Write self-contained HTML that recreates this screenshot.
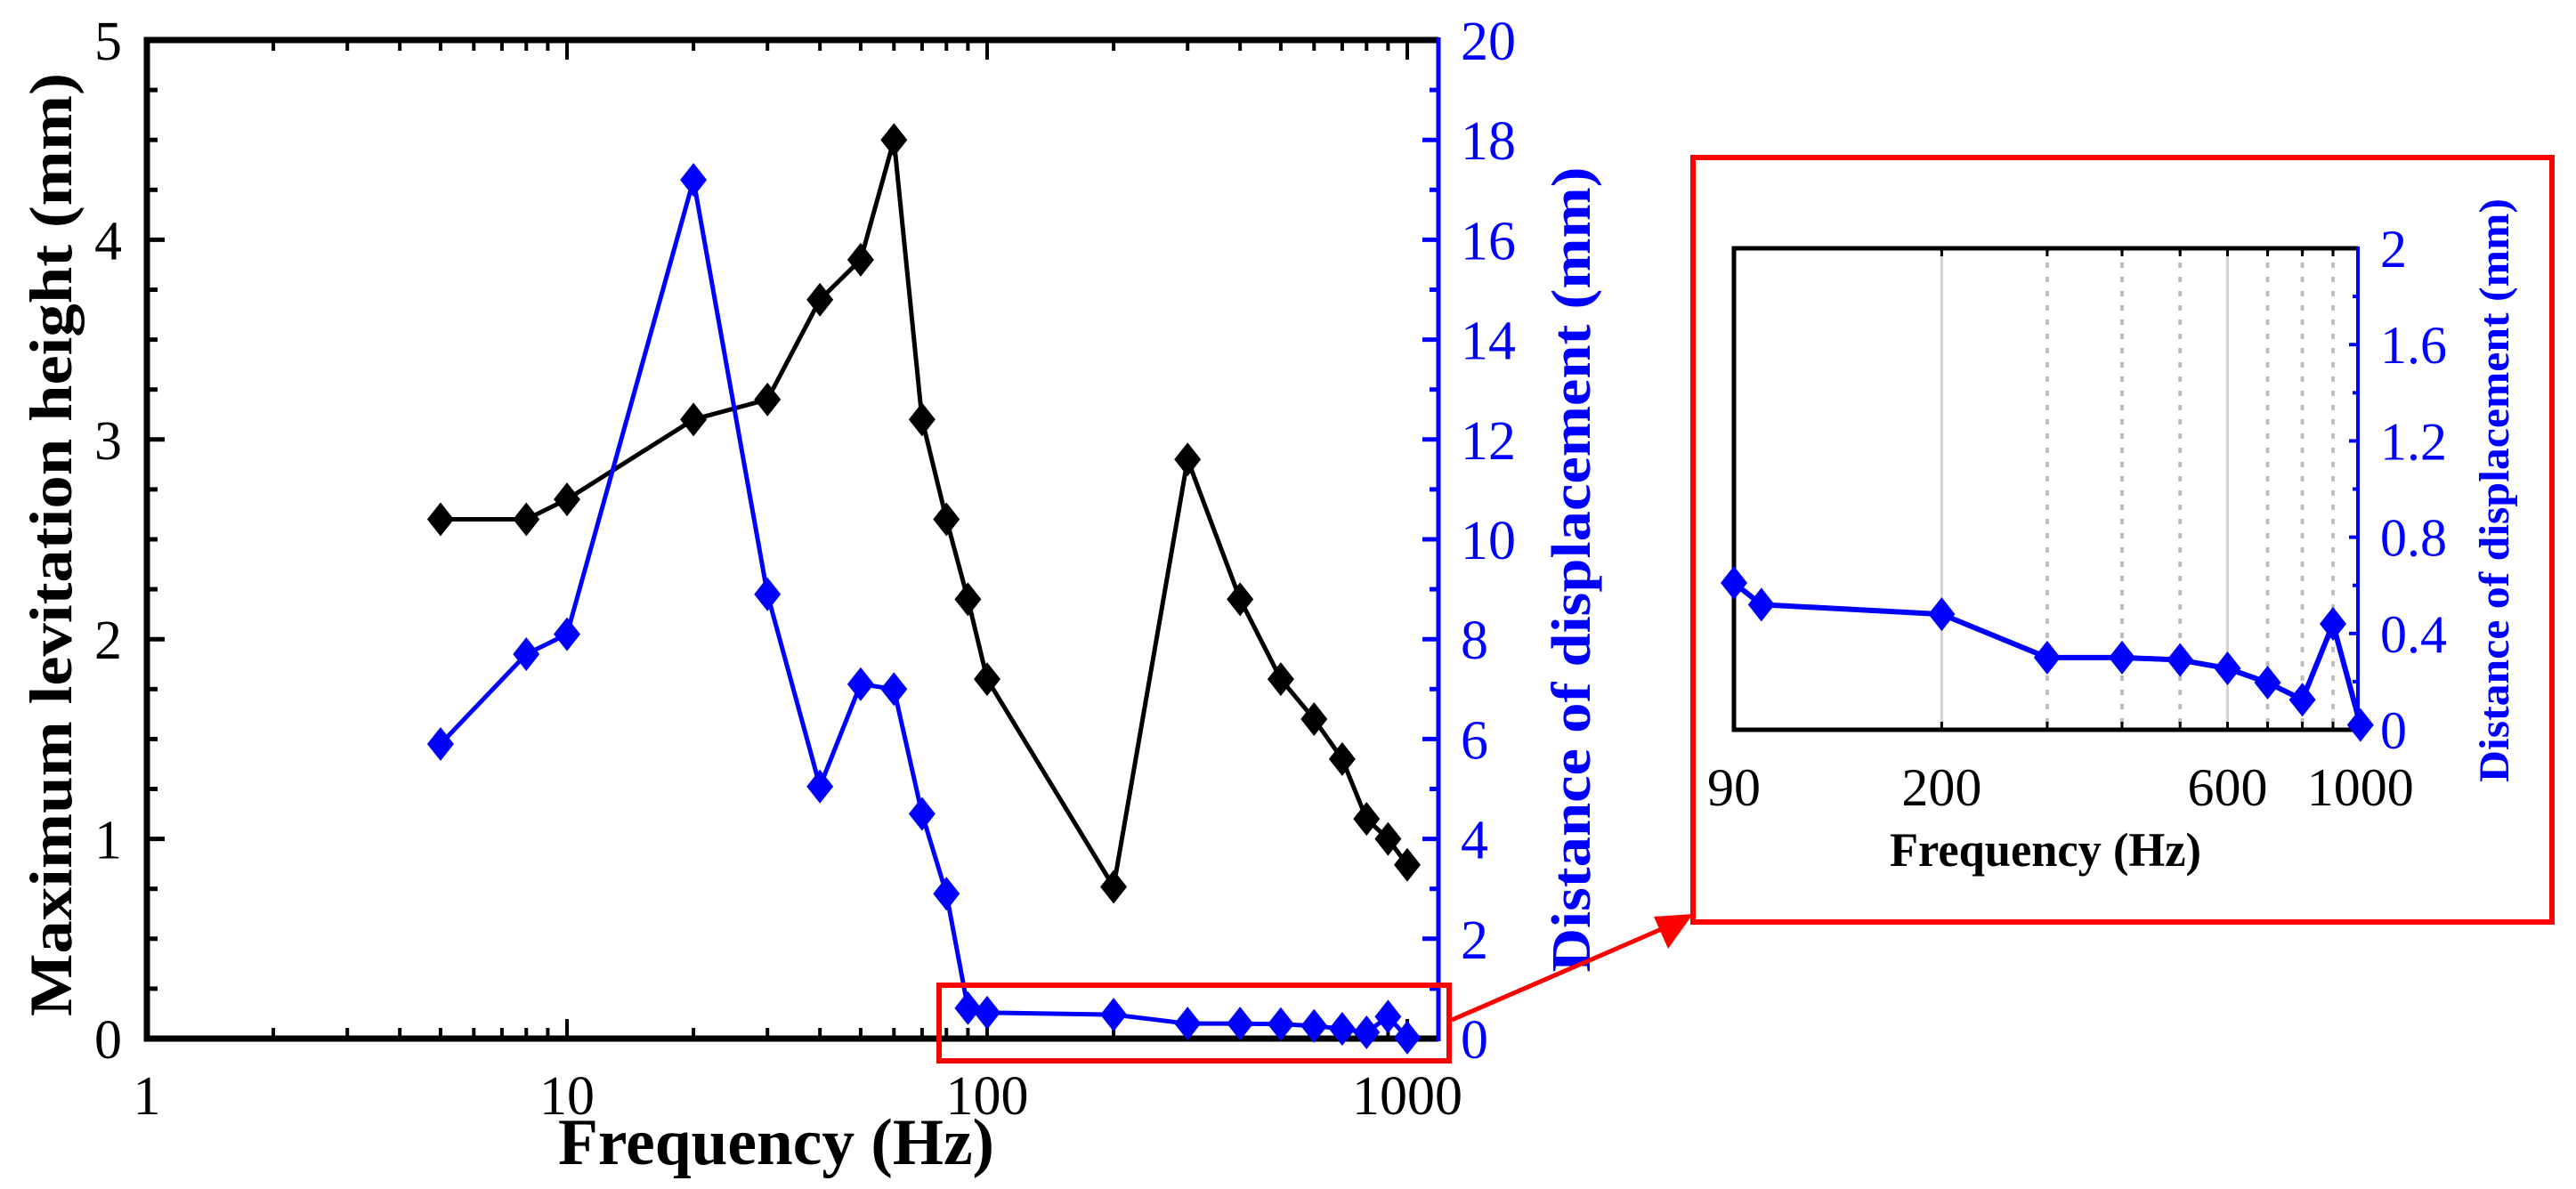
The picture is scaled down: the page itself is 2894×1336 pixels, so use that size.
<!DOCTYPE html>
<html><head><meta charset="utf-8"><style>
html,body{margin:0;padding:0;background:#fff;}
svg{display:block;font-family:"Liberation Serif",serif;}
</style></head><body>
<svg id="chart" width="2894" height="1336" viewBox="0 0 2894 1336" xmlns="http://www.w3.org/2000/svg">
<g id="main"></g>
<g id="inset"></g>
</svg>
<script>
const freqs = [5,8,10,20,30,40,50,60,70,80,90,100,200,300,400,500,600,700,800,900,1000];
const heightVals = [2.6,2.6,2.7,3.1,3.2,3.7,3.9,4.5,3.1,2.6,2.2,1.8,0.76,2.9,2.2,1.8,1.6,1.4,1.1,1.0,0.87];
const dispVals = [5.9,7.7,8.1,17.2,8.9,5.05,7.1,7.0,4.5,2.9,0.61,0.52,0.48,0.30,0.30,0.29,0.255,0.196,0.125,0.44,0.02];
const insetFreqs = [90,100,200,300,400,500,600,700,800,900,1000];
const insetDisp = [0.61,0.52,0.48,0.30,0.30,0.29,0.255,0.196,0.125,0.44,0.02];
const xTickLabels = ["1","10","100","1000"];
const leftTickLabels = ["0","1","2","3","4","5"];
const rightTickLabels = ["0","2","4","6","8","10","12","14","16","18","20"];
const insetXLabels = ["90","200","600","1000"];
const insetYLabels = ["0","0.4","0.8","1.2","1.6","2"];

const NS="http://www.w3.org/2000/svg";
function mk(parent,tag,attrs,text){const e=document.createElementNS(NS,tag);for(const k in attrs)e.setAttribute(k,attrs[k]);if(text!==undefined)e.textContent=text;parent.appendChild(e);return e;}

const X0=165,X1=1616,Y0=1167,Y1=45,DEC=472;
const xs=f=>X0+DEC*Math.log10(f);
const yL=v=>Y0-(Y0-Y1)*v/5;
const yR=v=>Y0-(Y0-Y1)*v/20;
const main=document.getElementById('main');

for(let d=0;d<4;d++){for(let m=1;m<=9;m++){const f=Math.pow(10,d)*m;const x=xs(f);if(x>X1-3)continue;const len=m===1?22:12;
 let t=mk(main,'line',{x1:x,y1:Y0,x2:x,y2:Y0-len,stroke:'#000','stroke-width':4});
 
 t=mk(main,'line',{x1:x,y1:Y1,x2:x,y2:Y1+len,stroke:'#000','stroke-width':4});
 }}
xTickLabels.forEach((s,i)=>{const t=mk(main,'text',{x:xs(Math.pow(10,i)),y:1252,'font-size':62,'text-anchor':'middle'},s);
 });
for(let k=0;k<=20;k++){const v=k*0.25;const len=k%4===0?20:12;const t=mk(main,'line',{x1:X0,y1:yL(v),x2:X0+len,y2:yL(v),stroke:'#000','stroke-width':5});
 }
leftTickLabels.forEach((s,i)=>{const t=mk(main,'text',{x:137,y:yL(+s)+22,'font-size':62,'text-anchor':'end'},s);
 });
for(let k=0;k<=20;k++){const len=k%2===0?18:10;const t=mk(main,'line',{x1:X1,y1:yR(k),x2:X1-len,y2:yR(k),stroke:'#00f','stroke-width':5});
 }
rightTickLabels.forEach(s=>{const t=mk(main,'text',{x:1641,y:yR(+s)+22,'font-size':62,fill:'#00f'},s);
 });
let ax=mk(main,'path',{d:`M${X1},${Y1} L${X0},${Y1} L${X0},${Y0} L${X1},${Y0}`,fill:'none',stroke:'#000','stroke-width':7});

ax=mk(main,'line',{x1:X1,y1:Y1-3,x2:X1,y2:Y0+3,stroke:'#00f','stroke-width':5});


let tt=mk(main,'text',{x:0,y:0,'font-size':68,'font-weight':'bold','text-anchor':'middle',transform:'translate(80,612) rotate(-90)',textLength:1060,lengthAdjust:'spacingAndGlyphs'},'Maximum levitation height (mm)');

tt=mk(main,'text',{x:0,y:0,'font-size':62,'font-weight':'bold','text-anchor':'middle',fill:'#00f',transform:'translate(1786,640) rotate(-90)',textLength:905,lengthAdjust:'spacingAndGlyphs'},'Distance of displacement (mm)');

tt=mk(main,'text',{x:872,y:1308,'font-size':74,'font-weight':'bold','text-anchor':'middle',textLength:490,lengthAdjust:'spacingAndGlyphs'},'Frequency (Hz)');


function diamond(g,x,y,w,h,c,name){const p=mk(g,'polygon',{points:`${x},${y-h} ${x+w},${y} ${x},${y+h} ${x-w},${y}`,fill:c});
 }
let pts=freqs.map((f,i)=>xs(f)+','+yL(heightVals[i])).join(' ');
let ln=mk(main,'polyline',{points:pts,fill:'none',stroke:'#000','stroke-width':5});

freqs.forEach((f,i)=>diamond(main,xs(f),yL(heightVals[i]),15,19,'#000','height-marker'));
pts=freqs.map((f,i)=>xs(f)+','+yR(dispVals[i])).join(' ');
ln=mk(main,'polyline',{points:pts,fill:'none',stroke:'#00f','stroke-width':5});

freqs.forEach((f,i)=>diamond(main,xs(f),yR(dispVals[i]),15,19,'#00f','displacement-marker'));

let rb=mk(main,'rect',{x:1055,y:1107,width:573,height:85,fill:'none',stroke:'#f00','stroke-width':6});

let ar=mk(main,'line',{x1:1631,y1:1146,x2:1885,y2:1036,stroke:'#f00','stroke-width':5});

ar=mk(main,'polygon',{points:'1902,1027 1858,1030 1874,1066',fill:'#f00'});


const ins=document.getElementById('inset');
const IX0=1948,IX1=2649,IY0=820,IY1=279,IDEC=673;
const ixs=f=>IX0+IDEC*Math.log10(f/90);
const iy=v=>IY0-(IY0-IY1)*v/2;
let ib=mk(ins,'rect',{x:1902,y:177,width:965,height:859,fill:'none',stroke:'#f00','stroke-width':6});

[200,300,400,500,600,700,800,900].forEach(f=>{const solid=(f===200||f===600);
 const g=mk(ins,'line',{x1:ixs(f),y1:IY1,x2:ixs(f),y2:IY0,stroke:solid?'#d3d3d3':'#bdbdbd','stroke-width':solid?3:4,'stroke-dasharray':solid?'none':'6,10'});
 
 let t=mk(ins,'line',{x1:ixs(f),y1:IY0,x2:ixs(f),y2:IY0-9,stroke:'#000','stroke-width':3});
 
 t=mk(ins,'line',{x1:ixs(f),y1:IY1,x2:ixs(f),y2:IY1+9,stroke:'#000','stroke-width':3});
 });
for(let k=0;k<=10;k++){const t=mk(ins,'line',{x1:IX1,y1:iy(k*0.2),x2:IX1-(k%2?6:10),y2:iy(k*0.2),stroke:'#00f','stroke-width':4});
 }
ax=mk(ins,'path',{d:`M${IX1},${IY1} L${IX0},${IY1} L${IX0},${IY0} L${IX1},${IY0}`,fill:'none',stroke:'#000','stroke-width':5});

ax=mk(ins,'line',{x1:IX1,y1:IY1-2,x2:IX1,y2:IY0+2,stroke:'#00f','stroke-width':4});

insetXLabels.forEach(s=>{const t=mk(ins,'text',{x:ixs(+s),y:905,'font-size':60,'text-anchor':'middle'},s);
 });
insetYLabels.forEach(s=>{const t=mk(ins,'text',{x:2674,y:iy(+s)+21,'font-size':60,fill:'#00f'},s);
 });
tt=mk(ins,'text',{x:2298,y:973,'font-size':54,'font-weight':'bold','text-anchor':'middle',textLength:350,lengthAdjust:'spacingAndGlyphs'},'Frequency (Hz)');

tt=mk(ins,'text',{x:0,y:0,'font-size':48,'font-weight':'bold','text-anchor':'middle',fill:'#00f',transform:'translate(2818,551) rotate(-90)',textLength:656,lengthAdjust:'spacingAndGlyphs'},'Distance of displacement (mm)');

pts=insetFreqs.map((f,i)=>ixs(f)+','+iy(insetDisp[i])).join(' ');
ln=mk(ins,'polyline',{points:pts,fill:'none',stroke:'#00f','stroke-width':6});

insetFreqs.forEach((f,i)=>diamond(ins,ixs(f),iy(insetDisp[i]),15,19,'#00f','inset-displacement-marker'));
</script>
</body></html>
